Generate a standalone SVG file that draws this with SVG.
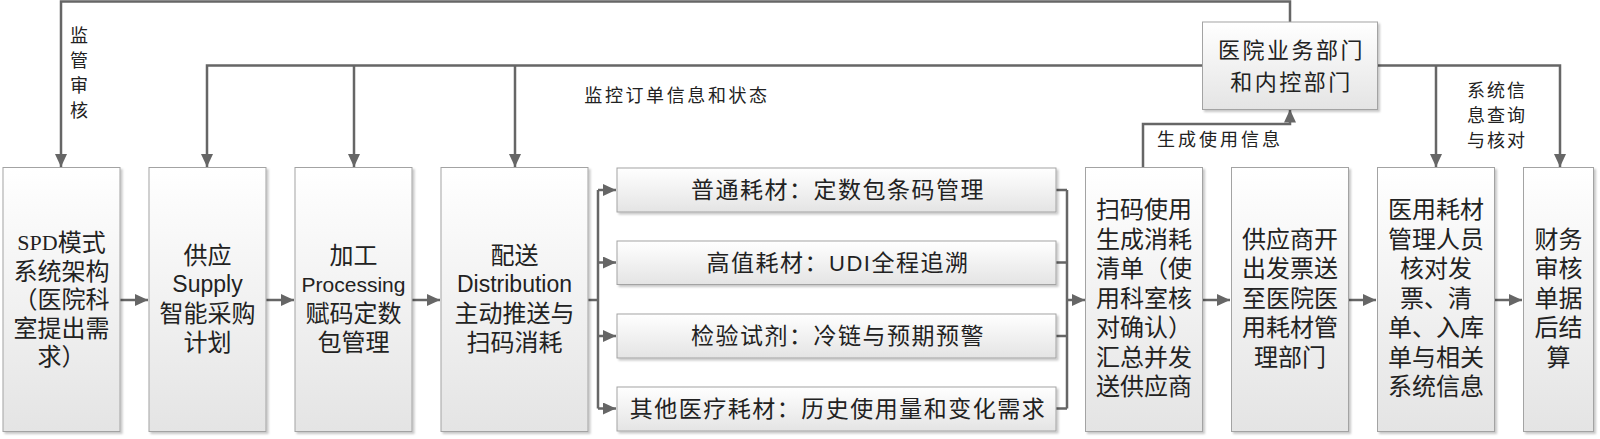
<svg xmlns="http://www.w3.org/2000/svg" width="1600" height="439" viewBox="0 0 1600 439">
<defs>
<linearGradient id="g" x1="0" y1="0" x2="0" y2="1">
<stop offset="0" stop-color="#ffffff"/>
<stop offset="1" stop-color="#e4e4e4"/>
</linearGradient>
<filter id="sh" x="-10%" y="-10%" width="130%" height="130%">
<feDropShadow dx="2" dy="2" stdDeviation="1" flood-color="#000" flood-opacity="0.22"/>
</filter>
<marker id="ah" markerUnits="userSpaceOnUse" markerWidth="14" markerHeight="12" refX="13" refY="6" orient="auto">
<path d="M0,0 L13,6 L0,12 z" fill="#666"/>
</marker>
<style>
.box{fill:url(#g);stroke:#a3a3a3;stroke-width:1;filter:url(#sh)}
.c{fill:none;stroke:#666;stroke-width:2.5}
.a{marker-end:url(#ah)}
.t{font-family:"Liberation Sans","Noto Sans CJK SC",sans-serif;font-size:24px;fill:#222;text-anchor:middle;dominant-baseline:central}
.s{font-family:"Liberation Sans","Noto Sans CJK SC",sans-serif;font-size:23px;fill:#222;text-anchor:middle;dominant-baseline:central;letter-spacing:1.5px}
.l{font-family:"Liberation Sans","Noto Sans CJK SC",sans-serif;font-size:18px;fill:#222;text-anchor:middle;dominant-baseline:central}
.lat{font-family:"Liberation Sans",Arial,sans-serif;font-size:21px}
.ser{font-family:"Liberation Serif",serif;font-size:22px}
</style>
</defs>
<rect width="1600" height="439" fill="#fff"/>

<g id="connectors">
<path class="c a" d="M1290,22 V1.5 H61 V167"/>
<path class="c a" d="M1202,65.5 H207 V167"/>
<path class="c a" d="M354,65.5 V167"/>
<path class="c a" d="M515,65.5 V167"/>
<path class="c a" d="M1378,65.5 H1560 V167"/>
<path class="c a" d="M1436,65.5 V167"/>
<path class="c a" d="M1143,167 V124 H1290 V109.5"/>
<path class="c a" d="M120,300 H148"/>
<path class="c a" d="M266,300 H294"/>
<path class="c a" d="M412,300 H440"/>
<path class="c" d="M588,300 H598 M598,190 V408.5"/>
<path class="c a" d="M598,190 H616"/>
<path class="c a" d="M598,262.5 H616"/>
<path class="c a" d="M598,336 H616"/>
<path class="c a" d="M598,408.5 H616"/>
<path class="c" d="M1056,190 H1067 M1056,262.5 H1067 M1056,336 H1067 M1056,408.5 H1067 M1067,190 V408.5"/>
<path class="c a" d="M1067,300 H1085"/>
<path class="c a" d="M1202,300 H1230"/>
<path class="c a" d="M1348,300 H1376"/>
<path class="c a" d="M1494,300 H1522"/>
</g>

<g id="labels">
<text class="l" x="79"><tspan x="79" y="36">监</tspan><tspan x="79" y="61">管</tspan><tspan x="79" y="86">审</tspan><tspan x="79" y="111">核</tspan></text>
<text class="l" x="677" y="96" style="letter-spacing:2.6px">监控订单信息和状态</text>
<text class="l" x="1220" y="140" style="letter-spacing:3px">生成使用信息</text>
<text class="l" style="letter-spacing:2px"><tspan x="1497" y="91">系统信</tspan><tspan x="1497" y="116">息查询</tspan><tspan x="1497" y="141">与核对</tspan></text>
</g>

<g id="n1">
<rect class="box" x="3" y="167.5" width="117" height="264"/>
<text class="t"><tspan x="61.5" y="242"><tspan class="ser">SPD</tspan>模式</tspan><tspan x="61.5" y="270.5">系统架构</tspan><tspan x="61.5" y="299">（医院科</tspan><tspan x="61.5" y="327.5">室提出需</tspan><tspan x="61.5" y="356">求）</tspan></text>
</g>

<g id="n2">
<rect class="box" x="149" y="167.5" width="117" height="264"/>
<text class="t"><tspan x="207.5" y="255">供应</tspan><tspan class="lat" x="207.5" y="284" style="font-size:23px">Supply</tspan><tspan x="207.5" y="313">智能采购</tspan><tspan x="207.5" y="342">计划</tspan></text>
</g>

<g id="n3">
<rect class="box" x="295" y="167.5" width="117" height="264"/>
<text class="t"><tspan x="353.5" y="255">加工</tspan><tspan class="lat" x="353.5" y="284">Processing</tspan><tspan x="353.5" y="313">赋码定数</tspan><tspan x="353.5" y="342">包管理</tspan></text>
</g>

<g id="n4">
<rect class="box" x="441" y="167.5" width="147" height="264"/>
<text class="t"><tspan x="514.5" y="255">配送</tspan><tspan class="lat" x="514.5" y="284" style="font-size:23px">Distribution</tspan><tspan x="514.5" y="313">主动推送与</tspan><tspan x="514.5" y="342">扫码消耗</tspan></text>
</g>

<g id="s1">
<rect class="box" x="617" y="168" width="439" height="44"/>
<text class="s" x="838" y="190">普通耗材：定数包条码管理</text>
</g>
<g id="s2">
<rect class="box" x="617" y="241" width="439" height="43.5"/>
<text class="s" x="838" y="262.5">高值耗材：<tspan class="lat" style="font-size:22px">UDI</tspan>全程追溯</text>
</g>
<g id="s3">
<rect class="box" x="617" y="314" width="439" height="44"/>
<text class="s" x="838" y="336">检验试剂：冷链与预期预警</text>
</g>
<g id="s4">
<rect class="box" x="617" y="387" width="439" height="44"/>
<text class="s" x="838" y="408.5">其他医疗耗材：历史使用量和变化需求</text>
</g>

<g id="n5">
<rect class="box" x="1085.5" y="167.5" width="117" height="264"/>
<text class="t"><tspan x="1144" y="209">扫码使用</tspan><tspan x="1144" y="238.5">生成消耗</tspan><tspan x="1144" y="268">清单（使</tspan><tspan x="1144" y="297.5">用科室核</tspan><tspan x="1144" y="327">对确认）</tspan><tspan x="1144" y="356.5">汇总并发</tspan><tspan x="1144" y="386">送供应商</tspan></text>
</g>

<g id="n6">
<rect class="box" x="1231.5" y="167.5" width="117" height="264"/>
<text class="t"><tspan x="1290" y="238.5">供应商开</tspan><tspan x="1290" y="268">出发票送</tspan><tspan x="1290" y="297.5">至医院医</tspan><tspan x="1290" y="327">用耗材管</tspan><tspan x="1290" y="356.5">理部门</tspan></text>
</g>

<g id="n7">
<rect class="box" x="1377.5" y="167.5" width="117" height="264"/>
<text class="t"><tspan x="1436" y="209">医用耗材</tspan><tspan x="1436" y="238.5">管理人员</tspan><tspan x="1436" y="268">核对发</tspan><tspan x="1436" y="297.5">票、清</tspan><tspan x="1436" y="327">单、入库</tspan><tspan x="1436" y="356.5">单与相关</tspan><tspan x="1436" y="386">系统信息</tspan></text>
</g>

<g id="n8">
<rect class="box" x="1523.5" y="167.5" width="70" height="264"/>
<text class="t"><tspan x="1558.5" y="238.5">财务</tspan><tspan x="1558.5" y="268">审核</tspan><tspan x="1558.5" y="297.5">单据</tspan><tspan x="1558.5" y="327">后结</tspan><tspan x="1558.5" y="356.5">算</tspan></text>
</g>

<g id="n9">
<rect class="box" x="1202.5" y="22" width="175" height="87.5"/>
<text class="t" style="font-size:22px;letter-spacing:2.5px"><tspan x="1291.5" y="50">医院业务部门</tspan><tspan x="1291.5" y="82">和内控部门</tspan></text>
</g>
</svg>
